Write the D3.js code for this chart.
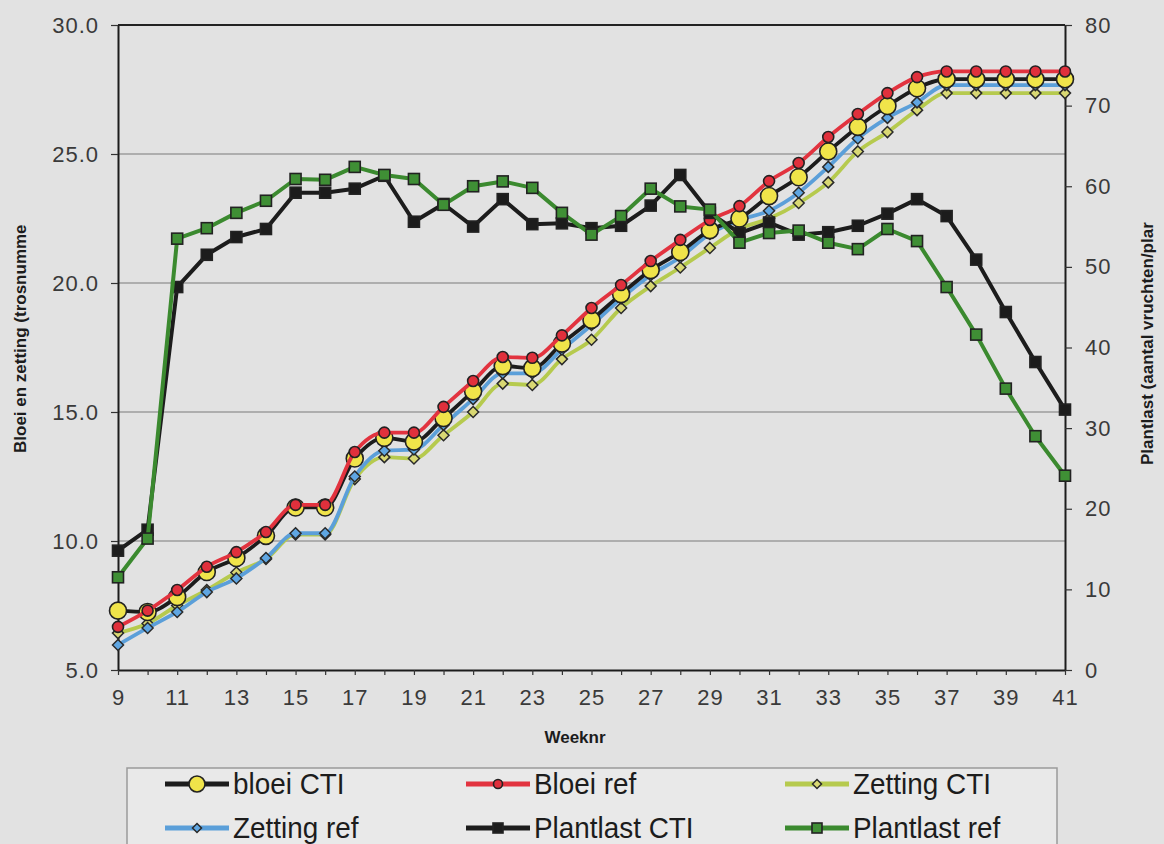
<!DOCTYPE html>
<html>
<head>
<meta charset="utf-8">
<script src="https://cdn.jsdelivr.net/npm/d3@7/dist/d3.min.js"></script>
<style>
  html, body { margin: 0; padding: 0; background: #e2e2e2; }
  svg { display: block; }
  text { font-family: "Liberation Sans", Arial, Helvetica, sans-serif; }
</style>
</head>
<body>
<svg id="chart" width="1164" height="844"></svg>
<script>
// Weeks on the x axis
const weeks = [9,10,11,12,13,14,15,16,17,18,19,20,21,22,23,24,25,26,27,28,29,30,31,32,33,34,35,36,37,38,39,40,41];

// Flowering and fruit set (truss number), left axis
const bloeiCTI   = [7.3,7.25,7.83,8.8,9.34,10.2,11.3,11.3,13.2,14.0,13.85,14.77,15.8,16.78,16.7,17.65,18.57,19.57,20.5,21.2,22.05,22.5,23.37,24.1,25.1,26.05,26.86,27.55,27.9,27.9,27.9,27.9,27.9];
const bloeiRef   = [6.67,7.3,8.1,9.0,9.57,10.35,11.4,11.4,13.45,14.2,14.2,15.2,16.2,17.13,17.1,17.97,19.03,19.92,20.85,21.67,22.44,22.98,23.95,24.65,25.66,26.55,27.36,27.98,28.2,28.2,28.2,28.2,28.2];
const zettingCTI = [6.43,6.8,7.5,8.1,8.78,9.3,10.25,10.25,12.4,13.25,13.2,14.1,15.0,16.1,16.05,17.05,17.8,19.03,19.88,20.6,21.36,22.1,22.5,23.1,23.9,25.1,25.85,26.7,27.36,27.36,27.36,27.36,27.36];
const zettingRef = [5.97,6.63,7.25,8.02,8.55,9.34,10.3,10.3,12.5,13.5,13.55,14.5,15.5,16.5,16.5,17.42,18.37,19.4,20.3,21.0,21.9,22.44,22.8,23.5,24.5,25.6,26.4,27.0,27.67,27.67,27.67,27.67,27.67];

// Plant load (number of fruits per plant), right axis
const plantlastCTI = [14.8,17.4,47.5,51.5,53.7,54.7,59.2,59.2,59.7,61.3,55.6,57.8,55.0,58.4,55.3,55.4,54.8,55.1,57.6,61.4,56.7,54.2,55.5,54.0,54.3,55.1,56.6,58.4,56.3,50.9,44.4,38.2,32.3];
const plantlastRef = [11.5,16.3,53.5,54.8,56.7,58.2,60.9,60.8,62.4,61.4,60.9,57.7,60.0,60.6,59.8,56.7,54.0,56.3,59.7,57.5,57.1,53.0,54.2,54.5,53.0,52.2,54.7,53.2,47.5,41.6,34.9,29.0,24.1];

// Axis ticks
const leftTicks  = [5,10,15,20,25,30];
const rightTicks = [0,10,20,30,40,50,60,70,80];
const gridTicks  = [10,15,20,25];

const svg = d3.select("#chart");
svg.append("rect").attr("width", 1164).attr("height", 844).attr("fill", "#e2e2e2");

const x  = d3.scaleLinear().domain([9, 41]).range([118, 1065]);
const yL = d3.scaleLinear().domain([5, 30]).range([670, 25]);
const yR = d3.scaleLinear().domain([0, 80]).range([670, 25]);

// horizontal gridlines
svg.append("g")
  .selectAll("line").data(gridTicks).join("line")
  .attr("x1", x(9)).attr("x2", x(41))
  .attr("y1", d => yL(d)).attr("y2", d => yL(d))
  .attr("stroke", "#7a7a7a").attr("stroke-width", 1);

// top frame line
svg.append("line")
  .attr("x1", x(9)).attr("x2", x(41)).attr("y1", yL(30)).attr("y2", yL(30))
  .attr("stroke", "#222").attr("stroke-width", 2);

function styleAxis(g) {
  g.select(".domain").attr("stroke", "#1c1c1c").attr("stroke-width", 2);
  g.selectAll(".tick line").attr("stroke", "#333").attr("stroke-width", 1.2);
  g.selectAll(".tick text").attr("fill", "#3a3a3a").style("font-size", "22px").style("letter-spacing", "1px");
}

svg.append("g").attr("transform", `translate(${x(9)},0)`)
  .call(d3.axisLeft(yL).tickValues(leftTicks).tickFormat(d3.format(".1f")).tickSize(7).tickSizeOuter(0).tickPadding(12))
  .call(styleAxis);

svg.append("g").attr("transform", `translate(${x(41)},0)`)
  .call(d3.axisRight(yR).tickValues(rightTicks).tickSize(7).tickSizeOuter(0).tickPadding(13))
  .call(styleAxis);

svg.append("g").attr("transform", `translate(0,${yL(5)})`)
  .call(d3.axisBottom(x).tickValues(weeks).tickFormat(d => d % 2 ? d : "").tickSize(5).tickSizeOuter(0).tickPadding(14))
  .call(styleAxis);

// axis titles
svg.append("text").attr("x", 575).attr("y", 743).attr("text-anchor", "middle")
  .style("font-size", "17px").style("font-weight", "bold").attr("fill", "#1c1c1c").text("Weeknr");
svg.append("text").attr("transform", "translate(26,453) rotate(-90)").attr("text-anchor", "start")
  .style("font-size", "17px").style("font-weight", "bold").attr("fill", "#1c1c1c").text("Bloei en zetting (trosnumme");
svg.append("text").attr("transform", "translate(1153,465) rotate(-90)").attr("text-anchor", "start")
  .style("font-size", "17px").style("font-weight", "bold").attr("fill", "#1c1c1c").text("Plantlast (aantal vruchten/plar");

// series definitions
const series = [
  { name: "Zetting CTI",   values: zettingCTI,   scale: yL, line: "#b6ca4e", width: 3.8, curve: d3.curveMonotoneX, shape: "diamond", fill: "#d9d873", size: 5.5 },
  { name: "Zetting ref",   values: zettingRef,   scale: yL, line: "#5b9fd9", width: 3.8, curve: d3.curveMonotoneX, shape: "diamond", fill: "#5fa6e2", size: 5.5 },
  { name: "bloei CTI",     values: bloeiCTI,     scale: yL, line: "#1c1c1c", width: 3.8, curve: d3.curveMonotoneX, shape: "circle",  fill: "#f0e44a", size: 8.5 },
  { name: "Bloei ref",     values: bloeiRef,     scale: yL, line: "#e2333f", width: 3.8, curve: d3.curveMonotoneX, shape: "circle",  fill: "#e0303c", size: 5.5 },
  { name: "Plantlast CTI", values: plantlastCTI, scale: yR, line: "#1c1c1c", width: 4,   curve: d3.curveLinear,    shape: "square",  fill: "#1c1c1c", size: 5.5 },
  { name: "Plantlast ref", values: plantlastRef, scale: yR, line: "#3b8a2f", width: 4,   curve: d3.curveLinear,    shape: "square",  fill: "#3f8f35", size: 5.5 }
];

function marker(sel, shape, r, fill) {
  if (shape === "circle") {
    sel.append("circle").attr("r", r).attr("fill", fill).attr("stroke", "#222").attr("stroke-width", 1.6);
  } else if (shape === "diamond") {
    sel.append("path").attr("d", `M0,${-r}L${r},0L0,${r}L${-r},0Z`).attr("fill", fill).attr("stroke", "#2a2a2a").attr("stroke-width", 1.5);
  } else {
    sel.append("rect").attr("x", -r).attr("y", -r).attr("width", 2 * r).attr("height", 2 * r)
      .attr("fill", fill).attr("stroke", "#222").attr("stroke-width", 1.6);
  }
}

series.forEach(s => {
  const pts = weeks.map((w, i) => [x(w), s.scale(s.values[i])]);
  svg.append("path").datum(pts)
    .attr("d", d3.line().curve(s.curve))
    .attr("fill", "none").attr("stroke", s.line).attr("stroke-width", s.width).attr("stroke-linejoin", "round");
  svg.append("g").selectAll("g").data(pts).join("g")
    .attr("transform", d => `translate(${d[0]},${d[1]})`)
    .each(function () { marker(d3.select(this), s.shape, s.size, s.fill); });
});

// legend
const legend = svg.append("g");
legend.append("rect").attr("x", 127).attr("y", 768).attr("width", 930).attr("height", 90)
  .attr("fill", "#e9e9e9").attr("stroke", "#9a9a9a").attr("stroke-width", 1.5);

const legendOrder = ["bloei CTI", "Bloei ref", "Zetting CTI", "Zetting ref", "Plantlast CTI", "Plantlast ref"];
const colX = [165, 466, 785];
const rowY = [784, 828];
legendOrder.forEach((name, i) => {
  const s = series.find(d => d.name === name);
  const lx = colX[i % 3], ly = rowY[Math.floor(i / 3)];
  const g = legend.append("g").attr("transform", `translate(${lx},${ly})`);
  g.append("line").attr("x1", 0).attr("x2", 64).attr("stroke", s.line).attr("stroke-width", 5);
  const m = g.append("g").attr("transform", "translate(32,0)");
  const r = s.shape === "circle" ? (s.size > 7 ? 8 : 4.5) : (s.shape === "diamond" ? 4.5 : 5);
  marker(m, s.shape, r, s.fill);
  g.append("text").attr("transform", "translate(68,10) scale(0.93,1)")
    .style("font-size", "30px").attr("fill", "#1c1c1c").text(name);
});
</script>
</body>
</html>
